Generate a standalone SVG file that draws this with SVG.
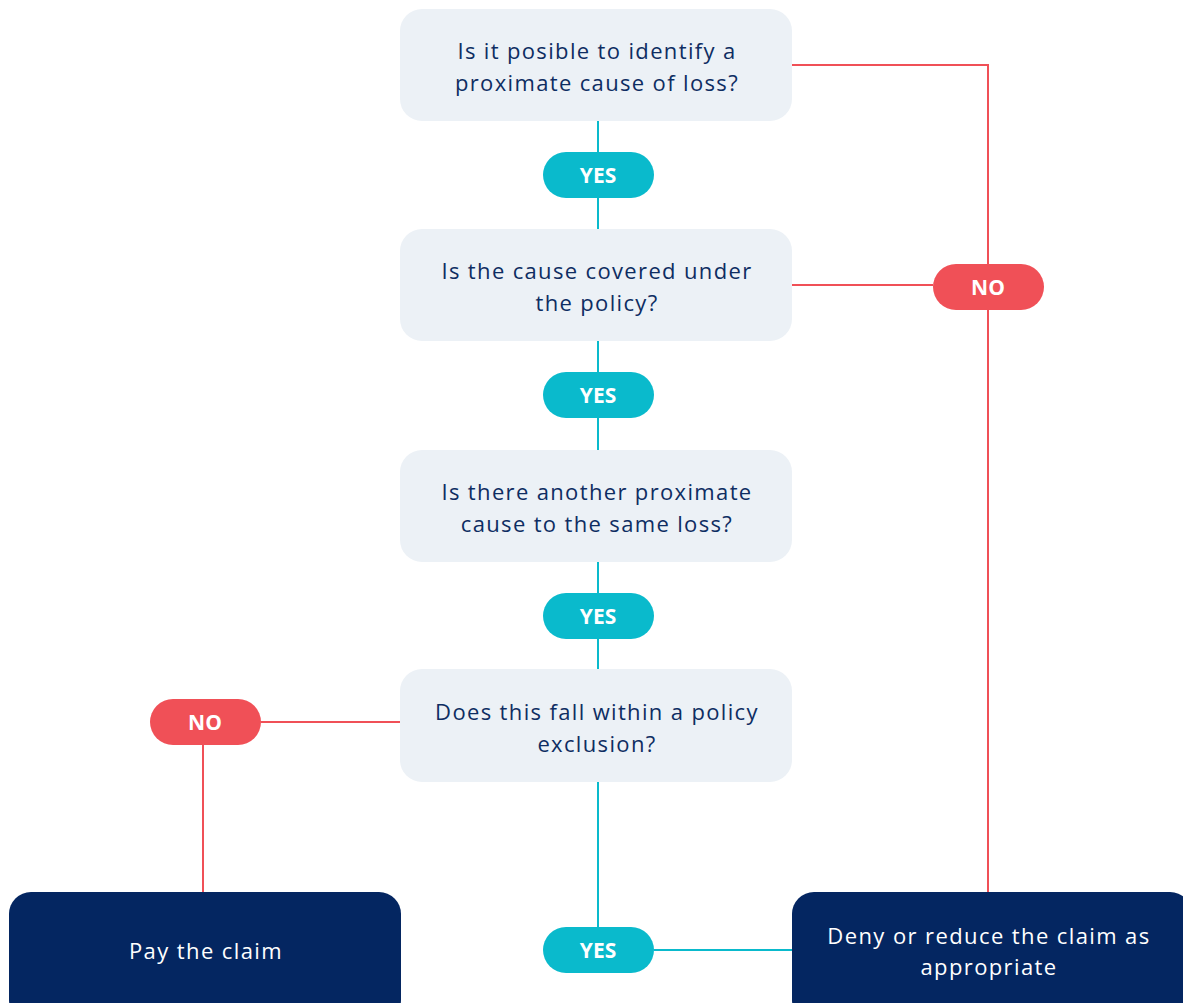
<svg xmlns="http://www.w3.org/2000/svg" width="1183" height="1003" viewBox="0 0 1183 1003">
<style>
.q{fill:#ECF1F6}
.qt{font-family:"Open Sans","Noto Sans",sans-serif;font-size:22px;letter-spacing:1.35px;fill:#0E2D62;text-anchor:middle;dominant-baseline:central}
.dk{fill:#042661}
.dt{font-family:"Open Sans","Noto Sans",sans-serif;font-size:22px;letter-spacing:1.4px;fill:#FFFFFF;text-anchor:middle;dominant-baseline:central}
.yes{fill:#0ABACC}
.no{fill:#F05057}
.pt{font-family:"Open Sans","Noto Sans",sans-serif;font-size:21px;font-weight:bold;fill:#FFFFFF;text-anchor:middle;dominant-baseline:central}
.lt{stroke:#0ABACC;stroke-width:2;fill:none}
.lr{stroke:#F05057;stroke-width:2;fill:none}
</style>
<rect width="1183" height="1003" fill="#FFFFFF"/>
<g id="connectors">
<line class="lt" x1="598" y1="121" x2="598" y2="229"/>
<line class="lt" x1="598" y1="341" x2="598" y2="450"/>
<line class="lt" x1="598" y1="562" x2="598" y2="669"/>
<line class="lt" x1="598" y1="782" x2="598" y2="927"/>
<line class="lt" x1="654" y1="950" x2="792" y2="950"/>
<polyline class="lr" points="792,65 988,65 988,264"/>
<line class="lr" x1="792" y1="285" x2="933" y2="285"/>
<line class="lr" x1="988" y1="310" x2="988" y2="892"/>
<line class="lr" x1="400" y1="722" x2="261" y2="722"/>
<line class="lr" x1="203" y1="745" x2="203" y2="892"/>
</g>
<g id="q1"><rect class="q" x="400" y="9" width="392" height="112" rx="22"/>
<text class="qt" x="597" y="50">Is it posible to identify a</text>
<text class="qt" x="597" y="82">proximate cause of loss?</text></g>
<g id="q2"><rect class="q" x="400" y="229" width="392" height="112" rx="22"/>
<text class="qt" x="597" y="270">Is the cause covered under</text>
<text class="qt" x="597" y="302">the policy?</text></g>
<g id="q3"><rect class="q" x="400" y="450" width="392" height="112" rx="22"/>
<text class="qt" x="597" y="491">Is there another proximate</text>
<text class="qt" x="597" y="523">cause to the same loss?</text></g>
<g id="q4"><rect class="q" x="400" y="669" width="392" height="113" rx="22"/>
<text class="qt" x="597" y="711">Does this fall within a policy</text>
<text class="qt" x="597" y="743">exclusion?</text></g>
<g id="pay"><rect class="dk" x="9" y="892" width="392" height="130" rx="22"/>
<text class="dt" x="206" y="950">Pay the claim</text></g>
<g id="deny"><rect class="dk" x="792" y="892" width="400" height="130" rx="22"/>
<text class="dt" x="989" y="935">Deny or reduce the claim as</text>
<text class="dt" x="989" y="966">appropriate</text></g>
<g id="yes1"><rect class="yes" x="543" y="152" width="111" height="46" rx="23"/><text class="pt" x="598" y="175">YES</text></g>
<g id="yes2"><rect class="yes" x="543" y="372" width="111" height="46" rx="23"/><text class="pt" x="598" y="395">YES</text></g>
<g id="yes3"><rect class="yes" x="543" y="593" width="111" height="46" rx="23"/><text class="pt" x="598" y="616">YES</text></g>
<g id="yes4"><rect class="yes" x="543" y="927" width="111" height="46" rx="23"/><text class="pt" x="598" y="950">YES</text></g>
<g id="no1"><rect class="no" x="933" y="264" width="111" height="46" rx="23"/><text class="pt" x="988" y="287">NO</text></g>
<g id="no2"><rect class="no" x="150" y="699" width="111" height="46" rx="23"/><text class="pt" x="205" y="722">NO</text></g>
</svg>
